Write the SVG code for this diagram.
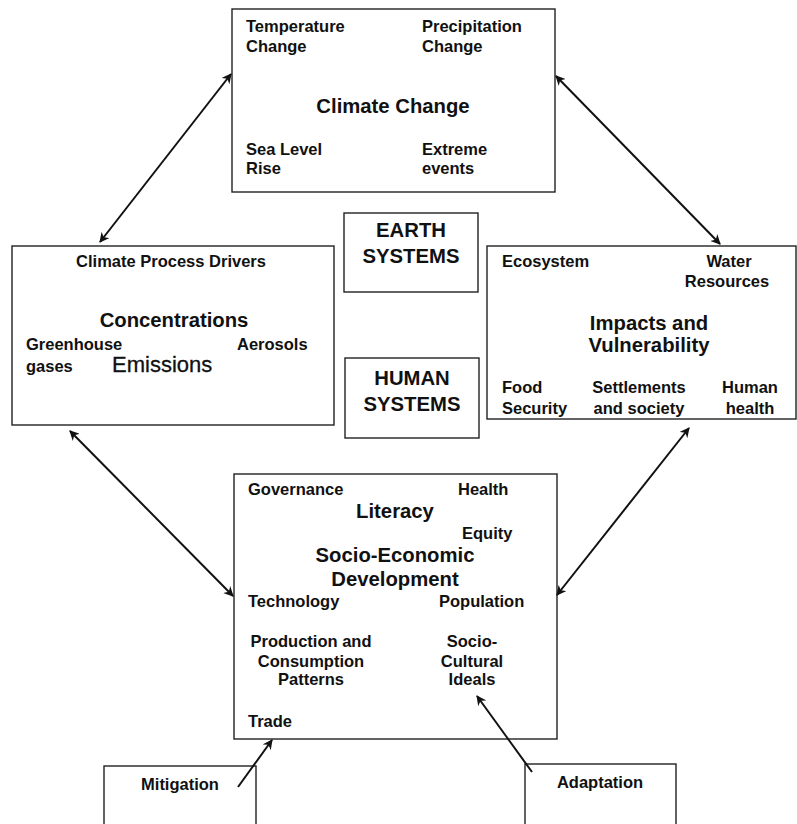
<svg xmlns="http://www.w3.org/2000/svg" width="797" height="824" viewBox="0 0 797 824">
<style>
.box{fill:#fff;stroke:#222;stroke-width:1.4}
text{font-family:"Liberation Sans",Arial,sans-serif;font-weight:bold;fill:#111;font-size:16.5px}
.big{font-size:20.3px}
.em{font-size:22px;font-weight:normal;stroke:#111;stroke-width:0.3}
.c{text-anchor:middle}
.ar{stroke:#111;stroke-width:2;fill:none}
</style>
<defs>
<marker id="ah" viewBox="0 0 10 10" refX="9" refY="5" markerWidth="5" markerHeight="5" orient="auto-start-reverse" markerUnits="strokeWidth">
<path d="M0,0 L10,5 L0,10 L3,5 z" fill="#111"/>
</marker>
</defs>
<rect width="797" height="824" fill="#fff"/>

<g id="climate-change">
<rect class="box" x="232" y="9" width="323" height="183"/>
<text x="246" y="32">Temperature</text>
<text x="246" y="52">Change</text>
<text x="422" y="32">Precipitation</text>
<text x="422" y="52">Change</text>
<text class="big c" x="393" y="113">Climate Change</text>
<text x="246" y="155">Sea Level</text>
<text x="246" y="174">Rise</text>
<text x="422" y="155">Extreme</text>
<text x="422" y="174">events</text>
</g>

<g id="climate-drivers">
<rect class="box" x="12" y="246" width="322" height="179"/>
<text class="c" x="171" y="267">Climate Process Drivers</text>
<text class="big c" x="174" y="327">Concentrations</text>
<text x="26" y="350">Greenhouse</text>
<text x="237" y="350">Aerosols</text>
<text x="26" y="372">gases</text>
<text class="em" x="112" y="372">Emissions</text>
</g>

<g id="impacts">
<rect class="box" x="487" y="246" width="309" height="173"/>
<text x="502" y="267">Ecosystem</text>
<text class="c" x="729" y="267">Water</text>
<text class="c" x="727" y="287">Resources</text>
<text class="big c" x="649" y="330">Impacts and</text>
<text class="big c" x="649" y="352">Vulnerability</text>
<text x="502" y="393">Food</text>
<text x="502" y="414">Security</text>
<text class="c" x="639" y="393">Settlements</text>
<text class="c" x="639" y="414">and society</text>
<text class="c" x="750" y="393">Human</text>
<text class="c" x="750" y="414">health</text>
</g>

<g id="earth-systems">
<rect class="box" x="344" y="213" width="134" height="79"/>
<text class="big c" x="411" y="237">EARTH</text>
<text class="big c" x="411" y="263">SYSTEMS</text>
</g>

<g id="human-systems">
<rect class="box" x="345" y="358" width="134" height="80"/>
<text class="big c" x="412" y="385">HUMAN</text>
<text class="big c" x="412" y="411">SYSTEMS</text>
</g>

<g id="socio-economic">
<rect class="box" x="234" y="474" width="323" height="265"/>
<text x="248" y="495">Governance</text>
<text x="458" y="495">Health</text>
<text class="big c" x="395" y="518">Literacy</text>
<text x="462" y="539">Equity</text>
<text class="big c" x="395" y="562">Socio-Economic</text>
<text class="big c" x="395" y="586">Development</text>
<text x="248" y="607">Technology</text>
<text x="439" y="607">Population</text>
<text class="c" x="311" y="647">Production and</text>
<text class="c" x="311" y="667">Consumption</text>
<text class="c" x="311" y="685">Patterns</text>
<text class="c" x="472" y="647">Socio-</text>
<text class="c" x="472" y="667">Cultural</text>
<text class="c" x="472" y="685">Ideals</text>
<text x="248" y="727">Trade</text>
</g>

<g id="mitigation">
<rect class="box" x="104" y="766" width="152" height="70"/>
<text class="c" x="180" y="790">Mitigation</text>
</g>

<g id="adaptation">
<rect class="box" x="525" y="764" width="151" height="72"/>
<text class="c" x="600" y="788">Adaptation</text>
</g>

<g id="connectors">
<line class="ar" x1="100" y1="242" x2="231" y2="74" marker-start="url(#ah)" marker-end="url(#ah)"/>
<line class="ar" x1="556" y1="76" x2="720" y2="244" marker-start="url(#ah)" marker-end="url(#ah)"/>
<line class="ar" x1="70" y1="431" x2="233" y2="596" marker-start="url(#ah)" marker-end="url(#ah)"/>
<line class="ar" x1="689" y1="428" x2="557" y2="595" marker-start="url(#ah)" marker-end="url(#ah)"/>
<line class="ar" x1="238" y1="787" x2="272" y2="740" marker-end="url(#ah)"/>
<line class="ar" x1="532" y1="772" x2="477" y2="696" marker-end="url(#ah)"/>
</g>
</svg>
